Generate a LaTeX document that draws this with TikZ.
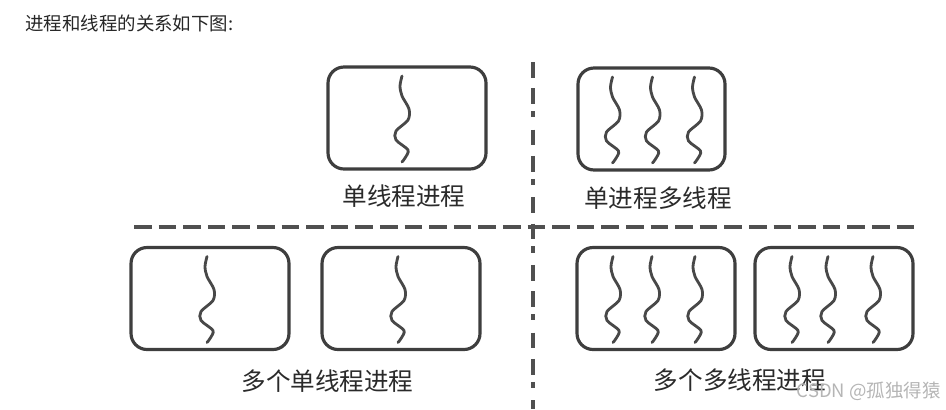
\documentclass[tikz,border=0pt]{standalone}
\usepackage{fontspec}
\usepackage{tikz}
\newfontfamily\cjk{Noto Sans CJK SC}
\definecolor{boxline}{HTML}{3E3E3E}
\definecolor{threadcol}{HTML}{484848}
\definecolor{divider}{HTML}{505050}
\definecolor{labeltext}{HTML}{2A2A2A}
\definecolor{watermark}{HTML}{B5B5B5}
\tikzset{pics/wave/.style={code={
  \draw[threadcol, line width=1.6pt, line cap=round]
    plot[smooth] coordinates {(0,-42) (-2,-32) (0,-22) (7,-9) (6,2)
      (-6,13) (-6,22) (6,32) (3,40) (0,44)};}}}

\begin{document}
\begin{tikzpicture}[x=0.02cm, y=-0.02cm,
  proc/.style={draw=boxline, line width=1.8pt, rounded corners=0.32cm,
    minimum width=3.16cm, minimum height=2.04cm, inner sep=0pt},
  caption/.style={labeltext, inner sep=0pt, font=\cjk\fontsize{14}{16}\selectfont}]

  \useasboundingbox (0,0) rectangle (946,409);

  % Heading
  \node[text=black!85, anchor=west, inner sep=0pt,
    font=\cjk\fontsize{10.5}{12}\selectfont] (title) at (25,23.5)
    {进程和线程的关系如下图:};

  % ============== Dividers ==============
  \coordinate (vtop) at (533,62);
  \coordinate (vbot) at (533,409);
  \coordinate (hleft) at (134,227);
  \coordinate (hright) at (917,227);
  \draw[divider, line width=1.8pt,
    dash pattern=on 9pt off 6pt on 9pt off 4pt on 3.5pt off 7pt] (vtop) -- (vbot);
  \draw[divider, line width=2pt, dash pattern=on 10pt off 4pt] (hleft) -- (hright);

  % ============== Processes ==============
  \node[proc] (single) at (407,118) {};
  \node[proc, minimum width=2.94cm] (multi) at (651.5,119) {};
  \node[proc] (singleA) at (210,298.5) {};
  \node[proc] (singleB) at (401,298.5) {};
  \node[proc] (multiA) at (656,298.5) {};
  \node[proc] (multiB) at (834,298.5) {};

  % Threads
  \foreach \p/\dx in {single/-5, multi/-39, multi/1, multi/43,
      singleA/-3, singleB/-3, multiA/-43, multiA/-4, multiA/39,
      multiB/-42, multiB/-6, multiB/39}
    \pic at ([xshift=\dx*0.02cm]\p.center) {wave};

  % ============== Captions ==============
  \node[caption] (singleLbl) at (404,196) {单线程进程};
  \node[caption] (multiLbl) at (658,198) {单进程多线程};
  \node[caption] (singlesLbl) at (327.5,381) {多个单线程进程};
  \node[caption] (multisLbl) at (740,380) {多个多线程进程};

  % Watermark
  \node[watermark, anchor=east, inner sep=0pt,
    font=\cjk\fontsize{10.5}{12}\selectfont] (mark) at (941,391)
    {CSDN @孤独得猿};

\end{tikzpicture}
\end{document}
